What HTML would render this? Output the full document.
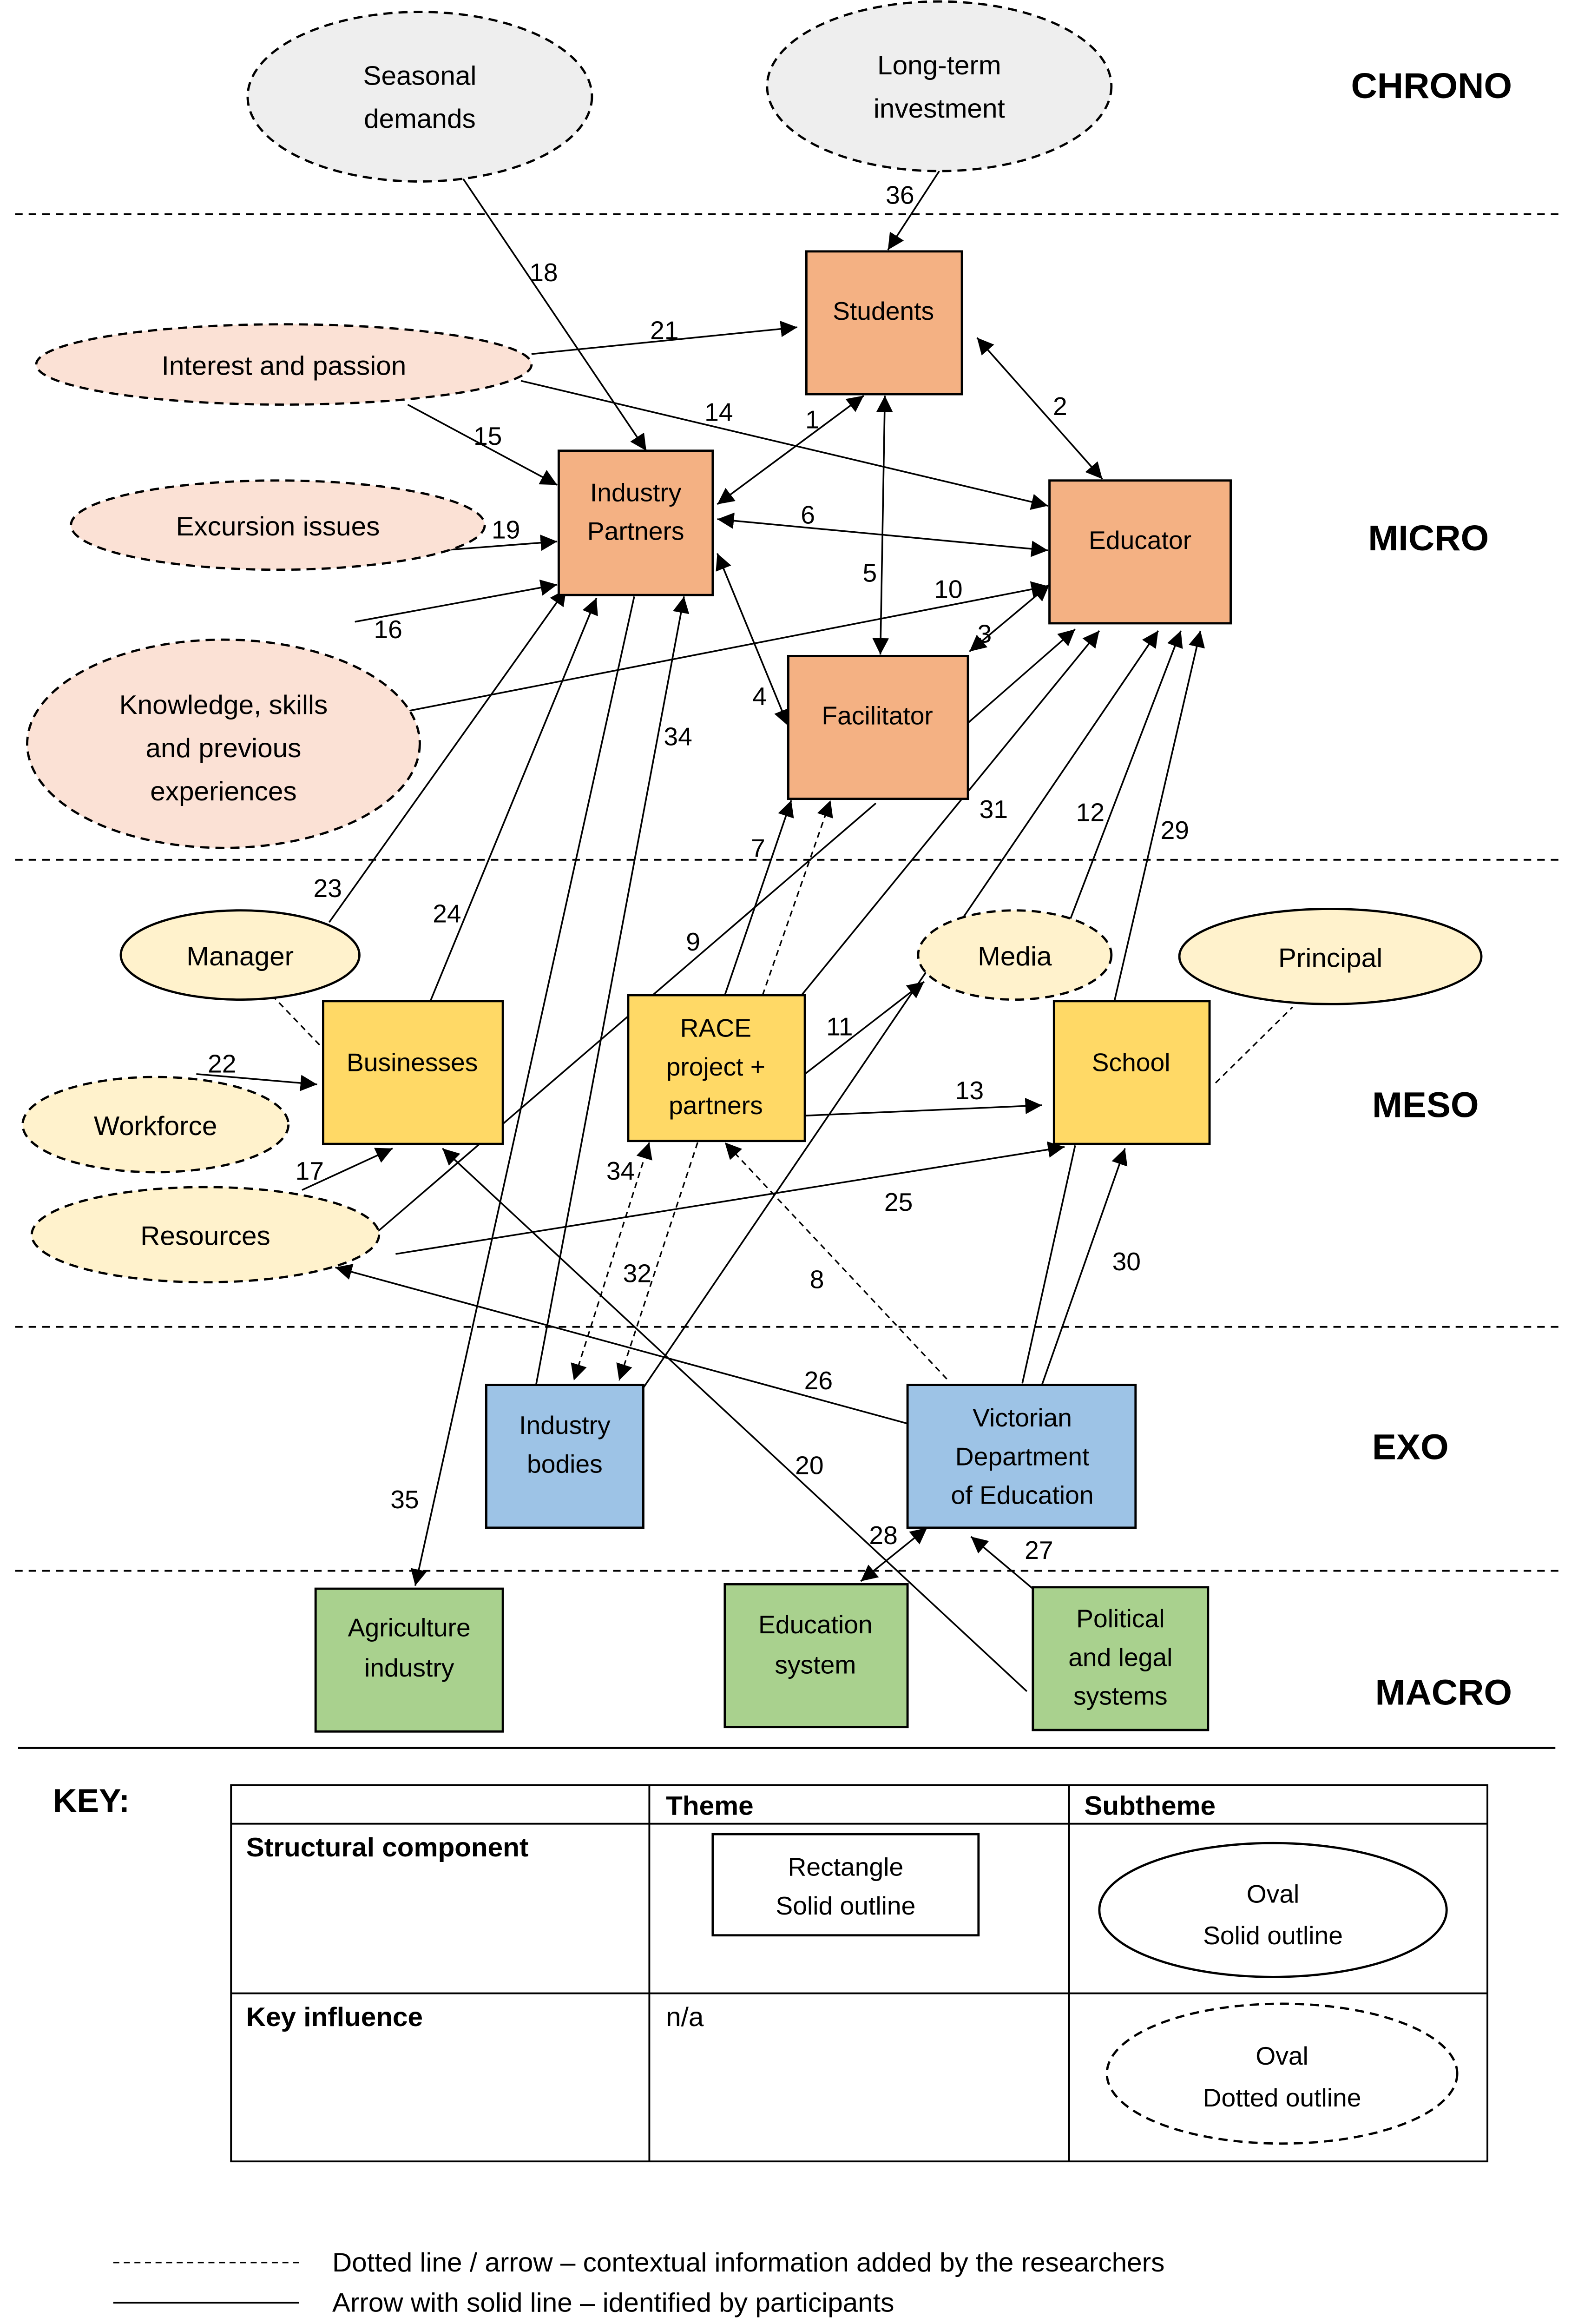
<!DOCTYPE html>
<html><head><meta charset="utf-8"><style>
html,body{margin:0;padding:0;background:#fff;width:100%;height:100%;overflow:hidden}
svg{display:block;position:fixed;left:0;top:0;width:100vw;height:100vh}
text{font-family:"Liberation Sans",sans-serif;fill:#000}
</style></head><body>
<svg viewBox="0 0 1045 1562.3" preserveAspectRatio="none" xmlns="http://www.w3.org/2000/svg">
<defs>
<marker id="b" viewBox="0 0 10 10" refX="10" refY="5" markerWidth="11" markerHeight="11" orient="auto-start-reverse" markerUnits="userSpaceOnUse"><path d="M0,0L10,5L0,10z" fill="#000"/></marker>
</defs>
<rect width="1045" height="1563" fill="#fff"/>
<g stroke="#000" stroke-width="1.2" stroke-dasharray="5,4">
<line x1="10" y1="144" x2="1035" y2="144"/>
<line x1="10" y1="578" x2="1035" y2="578"/>
<line x1="10" y1="892" x2="1035" y2="892"/>
<line x1="10" y1="1056" x2="1035" y2="1056"/>
</g>
<line x1="12" y1="1175" x2="1030" y2="1175" stroke="#000" stroke-width="1.5"/>

<g font-weight="bold" font-size="24">
<text x="948" y="66" text-anchor="middle">CHRONO</text>
<text x="946" y="370" text-anchor="middle">MICRO</text>
<text x="944" y="751" text-anchor="middle">MESO</text>
<text x="934" y="981" text-anchor="middle">EXO</text>
<text x="956" y="1146" text-anchor="middle">MACRO</text>
</g>

<g stroke="#000" stroke-width="1.1" fill="none">
<line x1="290" y1="95" x2="428" y2="303" marker-end="url(#b)"/>
<line x1="622" y1="115" x2="588" y2="168" marker-end="url(#b)"/>
<line x1="352" y1="238" x2="528" y2="220" marker-end="url(#b)"/>
<line x1="345" y1="256" x2="694" y2="340" marker-end="url(#b)"/>
<line x1="270" y1="272" x2="369" y2="326" marker-end="url(#b)"/>
<line x1="475" y1="339" x2="572" y2="266" marker-start="url(#b)" marker-end="url(#b)"/>
<line x1="647" y1="227" x2="730" y2="322" marker-start="url(#b)" marker-end="url(#b)"/>
<line x1="475" y1="349" x2="694" y2="370" marker-start="url(#b)" marker-end="url(#b)"/>
<line x1="586" y1="266" x2="583" y2="440" marker-start="url(#b)" marker-end="url(#b)"/>
<line x1="292" y1="370" x2="369" y2="364" marker-end="url(#b)"/>
<line x1="235" y1="418" x2="369" y2="393" marker-end="url(#b)"/>
<line x1="270" y1="478" x2="694" y2="394" marker-end="url(#b)"/>
<line x1="642" y1="438" x2="695" y2="393" marker-start="url(#b)" marker-end="url(#b)"/>
<line x1="475" y1="372" x2="522" y2="488" marker-start="url(#b)" marker-end="url(#b)"/>
<line x1="355" y1="931" x2="453" y2="401" marker-end="url(#b)"/>
<line x1="420" y1="401" x2="275" y2="1066" marker-end="url(#b)"/>
<line x1="218" y1="620" x2="375" y2="396" marker-end="url(#b)"/>
<line x1="285" y1="673" x2="395" y2="402" marker-end="url(#b)"/>
<line x1="641" y1="486" x2="712" y2="423" marker-end="url(#b)"/>
<line x1="530" y1="670" x2="728" y2="424" marker-end="url(#b)"/>
<line x1="480" y1="669" x2="524" y2="538" marker-end="url(#b)"/>
<line x1="580" y1="540" x2="250" y2="828"/>
<line x1="708" y1="620" x2="782" y2="424" marker-end="url(#b)"/>
<line x1="738" y1="673" x2="795" y2="424" marker-end="url(#b)"/>
<line x1="533" y1="722" x2="612" y2="660" marker-end="url(#b)"/>
<line x1="533" y1="750" x2="690" y2="743" marker-end="url(#b)"/>
<line x1="130" y1="722" x2="210" y2="729" marker-end="url(#b)"/>
<line x1="200" y1="800" x2="260" y2="772" marker-end="url(#b)"/>
<line x1="262" y1="843" x2="705" y2="771" marker-end="url(#b)"/>
<line x1="601" y1="957" x2="222" y2="852" marker-end="url(#b)"/>
<line x1="690" y1="931" x2="745" y2="772" marker-end="url(#b)"/>
<line x1="677" y1="930" x2="712" y2="770"/>
<line x1="426" y1="933" x2="767" y2="424" marker-end="url(#b)"/>
<line x1="570" y1="1063" x2="614" y2="1027" marker-start="url(#b)" marker-end="url(#b)"/>
<line x1="684" y1="1068" x2="643" y2="1033" marker-end="url(#b)"/>
<line x1="680" y1="1137" x2="293" y2="772" marker-end="url(#b)"/>
</g>
<g stroke="#000" stroke-width="1" fill="none" stroke-dasharray="4,3">
<line x1="505" y1="669" x2="550" y2="538" marker-end="url(#b)"/>
<line x1="627" y1="927" x2="480" y2="768" marker-end="url(#b)"/>
<line x1="462" y1="768" x2="410" y2="928" marker-end="url(#b)"/>
<line x1="430" y1="768" x2="380" y2="928" marker-start="url(#b)" marker-end="url(#b)"/>
<line x1="180" y1="669" x2="215" y2="706"/>
<line x1="805" y1="728" x2="856" y2="677"/>
</g>

<g font-size="17" text-anchor="middle">
<text x="360" y="189">18</text><text x="596" y="137">36</text><text x="440" y="228">21</text>
<text x="476" y="283">14</text><text x="323" y="299">15</text><text x="538" y="288">1</text>
<text x="702" y="279">2</text><text x="535" y="352">6</text><text x="576" y="391">5</text>
<text x="335" y="362">19</text><text x="257" y="429">16</text><text x="628" y="402">10</text>
<text x="652" y="432">3</text><text x="503" y="474">4</text><text x="449" y="501">34</text>
<text x="658" y="550">31</text><text x="722" y="552">12</text><text x="778" y="564">29</text>
<text x="502" y="576">7</text><text x="217" y="603">23</text><text x="296" y="620">24</text>
<text x="459" y="639">9</text><text x="556" y="696">11</text><text x="642" y="739">13</text>
<text x="147" y="721">22</text><text x="205" y="793">17</text><text x="411" y="793">34</text>
<text x="595" y="814">25</text><text x="746" y="854">30</text><text x="422" y="862">32</text>
<text x="541" y="866">8</text><text x="542" y="934">26</text><text x="536" y="991">20</text>
<text x="268" y="1014">35</text><text x="585" y="1038">28</text><text x="688" y="1048">27</text>
</g>

<g stroke="#000" stroke-width="1.5" stroke-dasharray="6,4">
<ellipse cx="278" cy="65" rx="114" ry="57" fill="#eeeeee"/>
<ellipse cx="622" cy="58" rx="114" ry="57" fill="#eeeeee"/>
<ellipse cx="188" cy="245" rx="164" ry="27" fill="#fbe1d5"/>
<ellipse cx="184" cy="353" rx="137" ry="30" fill="#fbe1d5"/>
<ellipse cx="148" cy="500" rx="130" ry="70" fill="#fbe1d5"/>
<ellipse cx="672" cy="642" rx="64" ry="30" fill="#fff2cc"/>
<ellipse cx="103" cy="756" rx="88" ry="32" fill="#fff2cc"/>
<ellipse cx="136" cy="830" rx="115" ry="32" fill="#fff2cc"/>
<ellipse cx="849" cy="1394" rx="116" ry="47" fill="#fff"/>
</g>
<g stroke="#000" stroke-width="1.5">
<ellipse cx="159" cy="642" rx="79" ry="30" fill="#fff2cc"/>
<ellipse cx="881" cy="643" rx="100" ry="32" fill="#fff2cc"/>
<ellipse cx="843" cy="1284" rx="115" ry="45" fill="#fff"/>
</g>

<g stroke="#000" stroke-width="1.5">
<rect x="534" y="169" width="103" height="96" fill="#f4b183"/>
<rect x="370" y="303" width="102" height="97" fill="#f4b183"/>
<rect x="695" y="323" width="120" height="96" fill="#f4b183"/>
<rect x="522" y="441" width="119" height="96" fill="#f4b183"/>
<rect x="214" y="673" width="119" height="96" fill="#ffd966"/>
<rect x="416" y="669" width="117" height="98" fill="#ffd966"/>
<rect x="698" y="673" width="103" height="96" fill="#ffd966"/>
<rect x="322" y="931" width="104" height="96" fill="#9dc3e6"/>
<rect x="601" y="931" width="151" height="96" fill="#9dc3e6"/>
<rect x="209" y="1068" width="124" height="96" fill="#a9d18e"/>
<rect x="480" y="1065" width="121" height="96" fill="#a9d18e"/>
<rect x="684" y="1067" width="116" height="96" fill="#a9d18e"/>
</g>

<g font-size="18" text-anchor="middle">
<text x="278" y="57">Seasonal</text><text x="278" y="86">demands</text>
<text x="622" y="50">Long-term</text><text x="622" y="79">investment</text>
<text x="188" y="252">Interest and passion</text>
<text x="184" y="360">Excursion issues</text>
<text x="148" y="480">Knowledge, skills</text><text x="148" y="509">and previous</text><text x="148" y="538">experiences</text>
<text x="672" y="649">Media</text>
<text x="103" y="763">Workforce</text>
<text x="136" y="837">Resources</text>
<text x="159" y="649">Manager</text>
<text x="881" y="650">Principal</text>
<text x="585" y="215" font-size="17">Students</text>
<text x="421" y="337" font-size="17">Industry</text><text x="421" y="363" font-size="17">Partners</text>
<text x="755" y="369" font-size="17">Educator</text>
<text x="581" y="487" font-size="17">Facilitator</text>
<text x="273" y="720" font-size="17">Businesses</text>
<text x="474" y="697" font-size="17">RACE</text><text x="474" y="723" font-size="17">project +</text><text x="474" y="749" font-size="17">partners</text>
<text x="749" y="720" font-size="17">School</text>
<text x="374" y="964" font-size="17">Industry</text><text x="374" y="990" font-size="17">bodies</text>
<text x="677" y="959" font-size="17">Victorian</text><text x="677" y="985" font-size="17">Department</text><text x="677" y="1011" font-size="17">of Education</text>
<text x="271" y="1100" font-size="17">Agriculture</text><text x="271" y="1127" font-size="17">industry</text>
<text x="540" y="1098" font-size="17">Education</text><text x="540" y="1125" font-size="17">system</text>
<text x="742" y="1094" font-size="17">Political</text><text x="742" y="1120" font-size="17">and legal</text><text x="742" y="1146" font-size="17">systems</text>
</g>

<text x="35" y="1218" font-size="22" font-weight="bold">KEY:</text>
<g stroke="#000" stroke-width="1.2" fill="none">
<rect x="153" y="1200" width="832" height="253"/>
<line x1="153" y1="1226" x2="985" y2="1226"/>
<line x1="153" y1="1340" x2="985" y2="1340"/>
<line x1="430" y1="1200" x2="430" y2="1453"/>
<line x1="708" y1="1200" x2="708" y2="1453"/>
<rect x="472" y="1233" width="176" height="68" stroke-width="1.5"/>
</g>
<g font-size="18">
<text x="441" y="1220" font-weight="bold">Theme</text>
<text x="718" y="1220" font-weight="bold">Subtheme</text>
<text x="163" y="1248" font-weight="bold">Structural component</text>
<text x="163" y="1362" font-weight="bold">Key influence</text>
<text x="441" y="1362">n/a</text>
</g>
<g font-size="17" text-anchor="middle">
<text x="560" y="1261">Rectangle</text><text x="560" y="1287">Solid outline</text>
<text x="843" y="1279">Oval</text><text x="843" y="1307">Solid outline</text>
<text x="849" y="1388">Oval</text><text x="849" y="1416">Dotted outline</text>
</g>
<line x1="75" y1="1521" x2="198" y2="1521" stroke="#000" stroke-width="1" stroke-dasharray="4,3"/>
<line x1="75" y1="1548" x2="198" y2="1548" stroke="#000" stroke-width="1.1"/>
<g font-size="18">
<text x="220" y="1527">Dotted line / arrow – contextual information added by the researchers</text>
<text x="220" y="1554">Arrow with solid line – identified by participants</text>
</g>
</svg>
</body></html>
